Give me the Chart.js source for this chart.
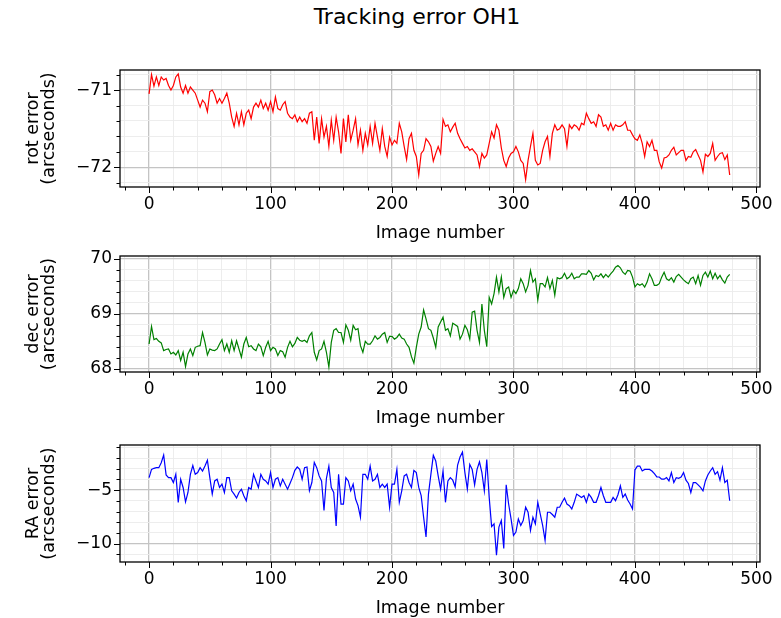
<!DOCTYPE html>
<html><head><meta charset="utf-8">
<script src="https://cdn.jsdelivr.net/npm/chart.js@4"></script>
<style>
html,body{margin:0;padding:0;background:#fff;width:781px;height:618px;overflow:hidden;}
canvas{position:absolute;left:0;top:0;}
#title{position:absolute;left:0;top:5px;width:834px;text-align:center;font-family:'DejaVu Sans';font-size:22px;line-height:24px;color:#000;}
</style></head><body>
<div id="title">Tracking error OH1</div>
<canvas id="c1" width="781" height="618"></canvas>
<canvas id="c2" width="781" height="618"></canvas>
<canvas id="c3" width="781" height="618"></canvas>
<script>
// ---- data (image numbers 0,2,4,...,478) ----
const rotError = [
-71.05,-70.80,-70.95,-70.83,-70.94,-70.83,-70.87,-70.85,-70.94,-71.00,
-70.94,-70.83,-70.79,-70.96,-71.04,-70.94,-71.04,-70.96,-71.00,-71.04,
-71.13,-71.22,-71.13,-71.17,-71.28,-71.02,-71.00,-71.06,-71.17,-71.11,
-71.17,-71.11,-71.04,-71.17,-71.35,-71.47,-71.30,-71.45,-71.28,-71.45,
-71.30,-71.26,-71.37,-71.22,-71.17,-71.22,-71.13,-71.24,-71.17,-71.26,
-71.15,-71.28,-71.09,-71.24,-71.26,-71.19,-71.15,-71.30,-71.35,-71.37,
-71.32,-71.41,-71.35,-71.41,-71.37,-71.43,-71.30,-71.28,-71.65,-71.35,
-71.69,-71.37,-71.61,-71.47,-71.73,-71.39,-71.65,-71.35,-71.54,-71.82,
-71.37,-71.67,-71.32,-71.65,-71.52,-71.37,-71.71,-71.52,-71.78,-71.56,
-71.71,-71.47,-71.69,-71.43,-71.61,-71.78,-71.50,-71.73,-71.86,-71.61,
-71.71,-71.65,-71.69,-71.43,-71.54,-71.73,-71.90,-71.63,-71.56,-71.78,
-71.86,-72.10,-71.82,-71.78,-71.63,-71.67,-71.73,-71.92,-71.82,-71.73,
-71.82,-71.38,-71.47,-71.45,-71.54,-71.48,-71.43,-71.56,-71.63,-71.69,
-71.75,-71.73,-71.78,-71.76,-71.80,-71.84,-71.99,-71.82,-71.88,-71.84,
-71.69,-71.54,-71.62,-71.45,-71.52,-71.75,-71.91,-71.99,-71.88,-71.82,
-71.80,-71.73,-71.80,-71.91,-71.95,-72.16,-71.91,-71.73,-71.56,-71.91,
-71.97,-71.95,-71.78,-71.67,-71.60,-71.86,-71.56,-71.45,-71.52,-71.50,
-71.45,-71.50,-71.73,-71.45,-71.50,-71.45,-71.47,-71.52,-71.43,-71.45,
-71.30,-71.37,-71.43,-71.41,-71.47,-71.32,-71.35,-71.47,-71.45,-71.52,
-71.43,-71.52,-71.45,-71.47,-71.47,-71.45,-71.41,-71.52,-71.52,-71.58,
-71.63,-71.65,-71.58,-71.69,-71.86,-71.67,-71.73,-71.65,-71.78,-71.78,
-71.93,-72.01,-71.88,-71.87,-71.84,-71.78,-71.74,-71.84,-71.81,-71.78,
-71.78,-71.91,-71.86,-71.87,-71.80,-71.77,-71.84,-71.91,-72.06,-71.83,
-71.86,-71.82,-71.69,-71.91,-71.86,-71.82,-71.81,-71.90,-71.84,-72.10];

const decError = [
68.45,68.77,68.53,68.55,68.50,68.47,68.33,68.35,68.36,68.27,
68.30,68.25,68.33,68.15,68.30,68.04,68.27,68.36,68.24,68.39,
68.41,68.42,68.66,68.48,68.25,68.36,68.34,68.33,68.36,68.45,
68.53,68.33,68.45,68.30,68.51,68.33,68.51,68.36,68.21,68.45,
68.57,68.40,68.42,68.36,68.33,68.45,68.40,68.24,68.39,68.50,
68.33,68.39,68.36,68.24,68.33,68.31,68.21,68.39,68.50,68.40,
68.46,68.57,68.52,68.50,68.52,68.48,68.60,68.66,68.30,68.16,
68.33,68.36,68.50,68.30,68.03,68.48,68.70,68.73,68.66,68.66,
68.48,68.80,68.70,68.52,68.79,68.71,68.73,68.42,68.30,68.50,
68.45,68.45,68.51,68.60,68.54,68.57,68.63,68.66,68.48,68.59,
68.59,68.54,68.57,68.63,68.56,68.54,68.45,68.39,68.22,68.10,
68.39,68.63,68.76,69.07,68.91,68.73,68.70,68.56,68.39,68.76,
68.85,68.94,68.70,68.73,68.60,68.83,68.80,68.77,68.54,68.63,
68.79,68.71,68.54,69.03,69.05,68.70,68.48,69.18,68.70,68.40,
69.30,69.18,69.37,69.67,69.40,69.67,69.30,69.46,69.49,69.30,
69.43,69.37,69.46,69.64,69.55,69.40,69.52,69.79,69.58,69.64,
69.25,69.55,69.55,69.49,69.66,69.46,69.61,69.34,69.66,69.64,
69.66,69.74,69.64,69.67,69.74,69.64,69.67,69.67,69.73,69.73,
69.72,69.79,69.74,69.62,69.70,69.68,69.73,69.66,69.72,69.67,
69.73,69.78,69.85,69.88,69.84,69.76,69.72,69.79,69.78,69.67,
69.49,69.55,69.52,69.55,69.49,69.58,69.73,69.64,69.52,69.52,
69.55,69.67,69.76,69.64,69.61,69.66,69.58,69.68,69.72,69.67,
69.62,69.58,69.55,69.64,69.67,69.55,69.70,69.52,69.70,69.76,
69.67,69.78,69.64,69.74,69.64,69.70,69.62,69.56,69.67,69.72];

const raError = [
-3.83,-3.06,-2.96,-2.90,-2.90,-2.44,-1.73,-3.58,-3.83,-3.83,
-4.29,-3.52,-6.14,-3.98,-4.75,-6.10,-5.22,-3.52,-2.70,-3.52,
-3.36,-2.90,-3.21,-2.75,-2.20,-3.83,-5.37,-4.14,-3.98,-4.75,
-4.44,-5.22,-3.83,-3.83,-5.06,-5.37,-5.74,-5.22,-4.91,-5.52,
-5.99,-4.75,-4.91,-3.52,-4.14,-4.75,-3.52,-3.98,-4.14,-4.44,
-3.36,-4.75,-3.98,-3.83,-4.60,-3.98,-4.44,-4.91,-4.38,-3.83,
-3.15,-2.84,-3.06,-3.98,-2.90,-2.84,-5.06,-4.29,-2.40,-2.90,
-3.67,-4.14,-6.91,-3.89,-2.75,-4.75,-5.22,-8.35,-3.52,-6.30,
-6.30,-3.83,-4.14,-5.06,-4.44,-5.83,-6.45,-7.53,-3.52,-3.52,
-3.98,-2.75,-4.14,-3.98,-3.52,-4.75,-4.44,-4.75,-4.44,-6.60,
-4.44,-4.44,-3.06,-6.14,-5.06,-3.67,-3.52,-4.29,-4.75,-3.15,
-3.36,-4.75,-5.52,-7.53,-9.38,-5.37,-3.52,-1.75,-2.28,-3.67,
-4.91,-3.21,-6.14,-4.14,-3.83,-4.07,-4.69,-2.65,-1.91,-1.45,
-3.36,-4.91,-2.59,-3.06,-4.51,-3.06,-2.35,-3.36,-5.06,-2.13,
-5.68,-8.40,-8.15,-11.08,-8.46,-7.84,-10.46,-4.50,-6.30,-7.69,
-9.23,-8.92,-7.69,-8.30,-7.84,-6.60,-7.07,-8.77,-7.53,-8.15,
-6.14,-7.22,-8.30,-9.69,-7.07,-7.07,-7.28,-7.53,-6.60,-6.60,
-6.14,-5.74,-6.30,-6.45,-6.76,-6.14,-5.37,-5.52,-5.68,-5.52,
-6.14,-5.37,-5.68,-6.14,-6.14,-5.52,-4.75,-5.52,-6.14,-6.14,
-6.14,-5.68,-5.99,-5.43,-4.60,-5.68,-5.37,-5.93,-6.30,-6.76,
-3.10,-2.75,-2.75,-3.21,-3.06,-3.06,-3.06,-3.21,-3.46,-3.77,
-3.77,-3.98,-3.98,-3.83,-4.14,-3.36,-4.29,-3.83,-3.89,-3.77,
-3.36,-4.07,-4.38,-5.22,-4.29,-4.29,-4.51,-4.75,-5.06,-4.14,
-3.58,-3.21,-2.90,-3.52,-3.27,-4.07,-2.90,-4.29,-4.07,-5.99];

const imageNumbers = rotError.map((_, i) => i * 2);

const xMajorTicks = [0, 100, 200, 300, 400, 500];
const rotMajorTicks = [-72, -71];
const rotTickLabels = ['\u221272', '\u221271'];
const decMajorTicks = [68, 69, 70];
const decTickLabels = ['68', '69', '70'];
const raMajorTicks = [-10, -5];
const raTickLabels = ['\u221210', '\u22125'];

// ---- rendering ----
Chart.defaults.font.family = "'DejaVu Sans'";
Chart.defaults.color = '#000';
const FONT = {family: "'DejaVu Sans'", size: 17};
const LABEL_FONT = {family: "'DejaVu Sans'", size: 17.5};

function range(a, b, step) {
  const out = [];
  const n = Math.round((b - a) / step);
  for (let i = 0; i <= n; i++) out.push(+(a + i * step).toFixed(6));
  return out;
}
function isMajor(v, majors) { return majors.some(m => Math.abs(m - v) < 1e-6); }

function makeChart(id, values, color, cfg) {
  const xTicks = range(-20, 500, 20);
  const yTicks = range(cfg.yMinorStart, cfg.yMinorEnd, cfg.yMinorStep);
  const X_AXIS_H = 56.5;
  const decor = {
    id: 'decor',
    afterDraw(chart) {
      const {ctx, chartArea: a, scales} = chart;
      ctx.save();
      ctx.strokeStyle = '#000';
      ctx.lineWidth = 1;
      ctx.beginPath();
      scales.x.ticks.forEach(t => {
        const p = Math.round(scales.x.getPixelForValue(t.value)) + 0.5;
        const len = isMajor(t.value, xMajorTicks) ? 6 : 3.5;
        ctx.moveTo(p, a.bottom); ctx.lineTo(p, a.bottom + len);
      });
      scales.y.ticks.forEach(t => {
        const p = Math.round(scales.y.getPixelForValue(t.value)) + 0.5;
        const len = isMajor(t.value, cfg.yMajor) ? 6 : 3.5;
        ctx.moveTo(a.left, p); ctx.lineTo(a.left - len, p);
      });
      ctx.stroke();
      ctx.lineWidth = 1.3;
      ctx.strokeRect(a.left, a.top, a.right - a.left, a.bottom - a.top);
      ctx.restore();
    }
  };
  const gridColor = (majors) => (c) => (c.tick && isMajor(c.tick.value, majors)) ? '#c4c4c4' : '#ebebeb';
  const gridWidth = (majors) => (c) => (c.tick && isMajor(c.tick.value, majors)) ? 1.3 : 0.9;
  return new Chart(document.getElementById(id), {
    type: 'line',
    data: {
      datasets: [{
        data: imageNumbers.map((x, i) => ({x: x, y: values[i]})),
        borderColor: color,
        borderWidth: 1.2,
        pointRadius: 0,
        tension: 0,
        fill: false
      }]
    },
    options: {
      responsive: false,
      animation: false,
      devicePixelRatio: 1,
      events: [],
      layout: {padding: {left: 0, right: 21, top: cfg.top, bottom: 618 - cfg.bottom - X_AXIS_H}},
      plugins: {legend: {display: false}, tooltip: {enabled: false}, title: {display: false}},
      scales: {
        x: {
          type: 'linear',
          min: -23.95, max: 502.95,
          afterBuildTicks: s => { s.ticks = xTicks.map(v => ({value: v})); },
          afterFit: s => { s.height = X_AXIS_H; },
          ticks: {
            autoSkip: false, maxRotation: 0, padding: 7.5, font: FONT, color: '#000',
            callback: v => isMajor(v, xMajorTicks) ? String(Math.round(v)) : ''
          },
          grid: {color: gridColor(xMajorTicks), lineWidth: gridWidth(xMajorTicks), drawTicks: false},
          border: {display: false},
          title: {display: true, text: 'Image number', font: LABEL_FONT, color: '#000', padding: {top: 0, bottom: 0}}
        },
        y: {
          type: 'linear',
          min: cfg.yMin, max: cfg.yMax,
          afterBuildTicks: s => { s.ticks = yTicks.map(v => ({value: v})); },
          afterFit: s => { s.width = 120; },
          ticks: {
            autoSkip: false, padding: 8, font: FONT, color: '#000',
            callback: v => {
              const i = cfg.yMajor.findIndex(m => Math.abs(m - v) < 1e-6);
              return i >= 0 ? cfg.yLabels[i] : '';
            }
          },
          grid: {color: gridColor(cfg.yMajor), lineWidth: gridWidth(cfg.yMajor), drawTicks: false},
          border: {display: false},
          title: {display: true, text: cfg.yTitle, font: {family: "'DejaVu Sans'", size: 17.5, lineHeight: 0.95}, color: '#000', padding: {top: 25, bottom: 0}}
        }
      }
    },
    plugins: [decor]
  });
}

makeChart('c1', rotError, '#ff0000', {
  top: 70, bottom: 187, yMin: -72.255, yMax: -70.74,
  yMinorStart: -72.2, yMinorEnd: -70.8, yMinorStep: 0.2,
  yMajor: rotMajorTicks, yLabels: rotTickLabels, yTitle: ['rot error', '(arcseconds)']
});
makeChart('c2', decError, '#008000', {
  top: 256, bottom: 372, yMin: 67.94, yMax: 70.055,
  yMinorStart: 68.0, yMinorEnd: 70.0, yMinorStep: 0.2,
  yMajor: decMajorTicks, yLabels: decTickLabels, yTitle: ['dec error', '(arcseconds)']
});
makeChart('c3', raError, '#0000ff', {
  top: 445, bottom: 562, yMin: -11.72, yMax: -0.78,
  yMinorStart: -11, yMinorEnd: -1, yMinorStep: 1,
  yMajor: raMajorTicks, yLabels: raTickLabels, yTitle: ['RA error', '(arcseconds)']
});
</script></body></html>
